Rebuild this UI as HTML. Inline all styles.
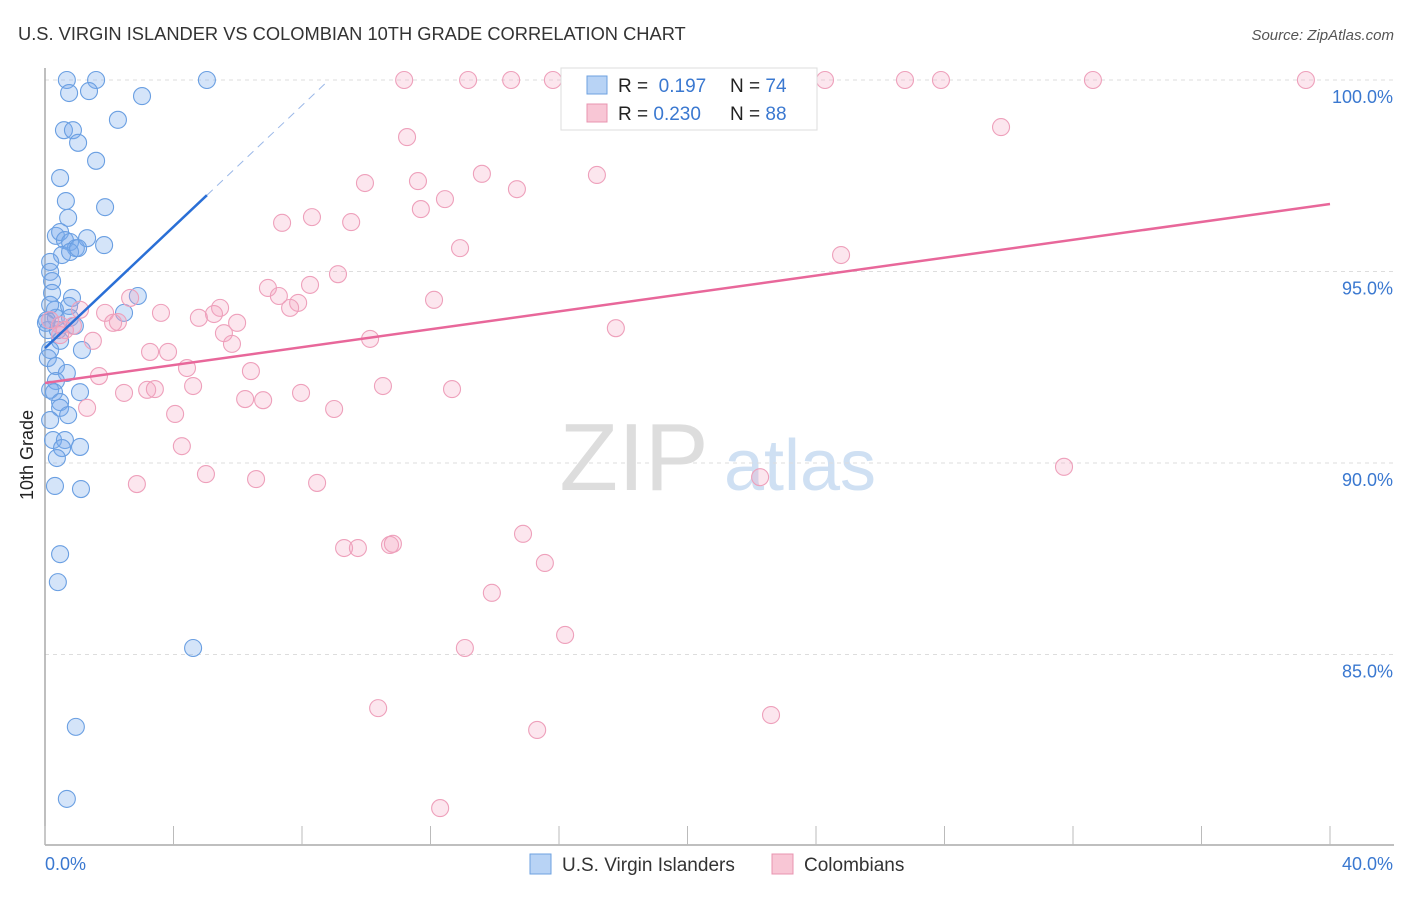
<!DOCTYPE html>
<html><head><meta charset="utf-8"><style>
body{margin:0;background:#fff;font-family:"Liberation Sans",sans-serif;}
svg text{font-family:"Liberation Sans",sans-serif;}
</style></head><body>
<svg id="chart" width="1406" height="892">
<text x="18" y="40" font-size="18.3" fill="#333">U.S. VIRGIN ISLANDER VS COLOMBIAN 10TH GRADE CORRELATION CHART</text>
<text x="1394" y="40" font-size="15" fill="#555" font-style="italic" text-anchor="end">Source: ZipAtlas.com</text>
<text transform="translate(33,455) rotate(-90)" font-size="18" fill="#222" text-anchor="middle">10th Grade</text>
<g id="watermark">
<text x="634" y="490" font-size="96" fill="#ddd" font-family="Liberation Serif" text-anchor="middle">ZIP</text>
<text x="800" y="490" font-size="72" fill="#cfe0f3" text-anchor="middle">atlas</text>
</g>
<g id="grid"></g><g id="axes"></g><g id="pts"></g><g id="lines"></g>
<g>
<rect x="561" y="68" width="256" height="62" fill="#fff" stroke="#ddd"/>
<rect x="587" y="76" width="20" height="18" fill="#b8d3f5" stroke="#6ea1e0"/>
<text x="618" y="92" font-size="19" fill="#222">R = <tspan fill="#3a78d0">&#160;0.197</tspan><tspan x="730">N = </tspan><tspan fill="#3a78d0">74</tspan></text>
<rect x="587" y="104" width="20" height="18" fill="#f8c6d5" stroke="#e894b0"/>
<text x="618" y="120" font-size="19" fill="#222">R = <tspan fill="#3a78d0">0.230</tspan><tspan x="730">N = </tspan><tspan fill="#3a78d0">88</tspan></text>
</g>
<g>
<rect x="530" y="854" width="21" height="20" fill="#b8d3f5" stroke="#6ea1e0"/>
<text x="562" y="871" font-size="19" fill="#333">U.S. Virgin Islanders</text>
<rect x="772" y="854" width="21" height="20" fill="#f8c6d5" stroke="#e894b0"/>
<text x="804" y="871" font-size="19" fill="#333">Colombians</text>
</g>
</svg>
<script>
const blueX=[0.68,1.59,5.04,0.75,1.37,3.02,2.27,0.59,0.87,1.03,1.59,0.47,1.87,0.65,0.72,0.34,0.47,0.62,0.78,0.96,1.31,1.84,0.53,0.78,1.03,0.16,0.16,0.22,0.22,0.84,2.89,2.46,0.31,0.34,0.75,0.78,0.93,0.06,0.09,0.40,0.47,0.16,0.09,0.34,0.68,1.15,0.34,0.16,0.28,1.09,0.47,0.47,0.72,0.16,0.25,0.62,0.53,0.37,1.09,0.31,1.12,0.47,0.40,4.61,0.96,0.68,0.03,0.16];
const blueY=[100,100,100,99.66,99.71,99.58,98.96,98.69,98.69,98.36,97.89,97.44,96.68,96.84,96.40,95.93,96.03,95.82,95.77,95.61,95.87,95.69,95.43,95.51,95.61,95.25,94.99,94.75,94.44,94.31,94.36,93.92,94.00,93.79,94.10,93.79,93.58,93.73,93.47,93.47,93.19,92.95,92.74,92.53,92.35,92.95,92.14,91.91,91.85,91.85,91.59,91.44,91.25,91.12,90.60,90.60,90.39,90.13,90.42,89.40,89.32,87.62,86.89,85.17,83.11,81.23,93.66,94.13];
const pinkX=[11.18,13.17,14.51,15.81,19.52,24.28,26.77,27.89,32.62,39.25,11.27,29.76,13.60,9.96,11.61,14.69,17.18,12.45,11.70,7.38,8.31,9.53,12.92,24.78,9.12,6.94,7.28,8.25,7.88,7.63,12.11,2.65,5.45,5.26,4.79,5.98,3.61,1.87,2.27,2.12,1.09,0.47,0.87,0.62,5.57,5.82,10.12,17.77,1.49,3.27,3.83,4.42,6.41,1.68,4.61,10.52,12.67,2.46,3.18,3.42,7.97,6.23,6.79,9.00,4.05,1.31,4.26,5.01,6.57,8.47,2.86,22.26,31.72,14.88,9.31,9.74,10.74,10.83,15.56,13.91,16.19,13.07,10.37,22.60,15.32,12.30,0.47,0.16];
const pinkY=[100,100,100,100,100,100,100,100,100,100,98.51,98.77,97.55,97.31,97.36,97.15,97.52,96.89,96.63,96.27,96.42,96.29,95.61,95.43,94.93,94.57,94.36,94.65,94.18,94.05,94.26,94.31,94.05,93.89,93.79,93.66,93.92,93.92,93.68,93.66,94.00,93.60,93.58,93.47,93.39,93.11,93.24,93.52,93.19,92.90,92.90,92.48,92.40,92.27,92.01,92.01,91.93,91.83,91.91,91.93,91.83,91.67,91.64,91.41,91.28,91.44,90.44,89.71,89.58,89.48,89.45,89.63,89.90,88.15,87.78,87.78,87.86,87.89,87.39,86.61,85.51,85.17,83.60,83.42,83.03,80.99,93.34,93.73];
const yTicks=[100,95,90,85];
const yTickLabels=["100.0%","95.0%","90.0%","85.0%"];
const xTicks=[0,4,8,12,16,20,24,28,32,36,40];
const blueTrend=[93.0,0.792];
const pinkTrend=[92.09,0.1168];

const NS="http://www.w3.org/2000/svg";
const X=v=>45+v*32.125, Y=v=>80+(100-v)*38.3;
function mk(tag,attrs,parent){const e=document.createElementNS(NS,tag);for(const k in attrs)e.setAttribute(k,attrs[k]);document.getElementById(parent).appendChild(e);return e;}
yTicks.forEach((t,i)=>{
 const l=mk('line',{x1:45,x2:1394,y1:Y(t),y2:Y(t),stroke:'#ddd','stroke-dasharray':'4,4'},'grid');
 
 
 const tx=mk('text',{x:1393,y:Y(t)+23,'font-size':18,fill:'#3a78d0','text-anchor':'end'},'grid');
 tx.textContent=yTickLabels[i];
 
 
});
const ax=mk('line',{x1:45,x2:1394,y1:845,y2:845,stroke:'#aaa','stroke-width':1.5},'axes');


const ay=mk('line',{x1:45,x2:45,y1:68,y2:845,stroke:'#aaa','stroke-width':1.5},'axes');


xTicks.forEach(t=>{
 const l=mk('line',{x1:X(t),x2:X(t),y1:826,y2:845,stroke:'#bbb'},'axes');
 
 
});
const xl0=mk('text',{x:45,y:870,'font-size':18,fill:'#3a78d0'},'axes');xl0.textContent=xTicks[0].toFixed(1)+'%';


const xl1=mk('text',{x:1393,y:870,'font-size':18,fill:'#3a78d0','text-anchor':'end'},'axes');xl1.textContent=xTicks[xTicks.length-1].toFixed(1)+'%';


blueX.forEach((v,i)=>{
 const c=mk('circle',{cx:X(v),cy:Y(blueY[i]),r:8.5,fill:'rgba(120,170,235,0.32)',stroke:'#6a9fe2','stroke-width':1.1},'pts');
 
 
});
pinkX.forEach((v,i)=>{
 const c=mk('circle',{cx:X(v),cy:Y(pinkY[i]),r:8.5,fill:'rgba(245,165,195,0.28)',stroke:'#eea0bb','stroke-width':1.1},'pts');
 
 
});
const bMax=Math.max(...blueX), bEnd=(100-blueTrend[0])/blueTrend[1];
const b1=mk('line',{x1:X(0),y1:Y(blueTrend[0]),x2:X(bMax),y2:Y(blueTrend[0]+blueTrend[1]*bMax),stroke:'#2a6fd6','stroke-width':2.5},'lines');


const b2=mk('line',{x1:X(bMax),y1:Y(blueTrend[0]+blueTrend[1]*bMax),x2:X(bEnd),y2:Y(100),stroke:'#9bb8e8','stroke-width':1,'stroke-dasharray':'8,6'},'lines');


const p1=mk('line',{x1:X(0),y1:Y(pinkTrend[0]),x2:X(40),y2:Y(pinkTrend[0]+pinkTrend[1]*40),stroke:'#e8679a','stroke-width':2.5},'lines');


</script>
</body></html>
